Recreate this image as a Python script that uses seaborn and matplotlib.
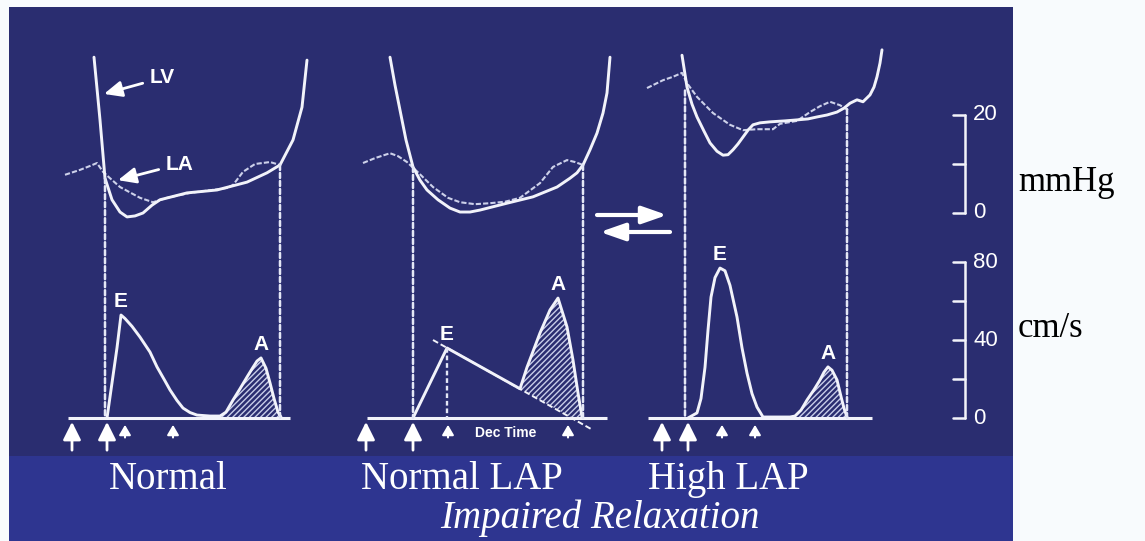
import numpy as np
import matplotlib
matplotlib.use("Agg")
import matplotlib.pyplot as plt
from matplotlib.patches import Rectangle, ConnectionPatch
import seaborn as sns

# %%
# values; time is in screen units (no time scale on the slide)
# LV / LA pressure, mmHg
lv_normal_t = [94, 100, 105, 112, 120, 127, 135, 143, 152, 160, 187, 217, 247, 267, 280, 293, 302, 307]
lv_normal_p = [31.8, 19.0, 7.1, 2.7, 0.2, -0.8, -0.6, 0.0, 1.6, 2.7, 4.1, 4.7, 6.3, 8.2, 9.8, 14.9, 21.6, 31.2]
la_normal_t = [65, 80, 90, 97, 103, 110, 120, 140, 153, 167, 190, 227, 233, 243, 255, 270, 280]
la_normal_p = [7.8, 8.8, 9.6, 10.2, 8.4, 7.1, 5.3, 3.1, 2.2, 3.1, 4.1, 5.1, 5.7, 8.4, 10.0, 10.4, 9.8]

lv_lap_t = [390, 395, 400, 406, 413, 420, 427, 438, 450, 460, 470, 480, 507, 533, 557, 570, 577, 583, 590, 597, 603, 607, 610]
lv_lap_p = [31.8, 26.1, 21.0, 14.9, 9.4, 6.7, 4.7, 2.7, 1.0, 0.2, 0.2, 0.6, 2.0, 3.3, 5.3, 7.1, 8.2, 9.8, 12.9, 16.3, 20.4, 24.5, 31.8]
la_lap_t = [363, 375, 390, 398, 407, 420, 433, 448, 460, 475, 490, 505, 520, 530, 540, 553, 567, 575, 583]
la_lap_p = [10.2, 11.2, 12.2, 11.6, 10.4, 7.9, 5.3, 3.1, 2.2, 1.8, 2.0, 2.3, 3.1, 4.6, 6.1, 9.4, 10.8, 10.4, 9.8]

lv_high_t = [682, 687, 692, 697, 704, 710, 717, 723, 728, 733, 738, 743, 748, 753, 760, 770, 785, 797,
             808, 817, 827, 837, 844, 850, 857, 863, 870, 874, 877, 880, 882]
lv_high_p = [32.2, 25.7, 22.2, 19.6, 16.7, 14.3, 12.6, 11.8, 11.9, 12.9, 14.1, 15.5, 16.9, 18.0, 18.4, 18.6, 18.8, 19.0,
             19.2, 19.6, 20.0, 20.6, 21.4, 22.4, 23.1, 22.7, 24.1, 25.7, 27.8, 30.6, 33.3]
la_high_t = [647, 663, 673, 682, 687, 697, 713, 730, 743, 757, 773, 780, 797, 810, 820, 830, 840, 848]
la_high_p = [25.5, 27.1, 27.8, 28.6, 26.5, 23.7, 20.4, 18.0, 16.9, 17.1, 17.1, 18.2, 18.8, 20.6, 21.8, 22.7, 22.0, 21.0]

# mitral inflow velocity, cm/s
mitral_normal_t = [107, 112, 117, 121, 125, 132, 140, 150, 157, 165, 170, 177, 183, 190, 197, 210, 220,
                   226, 233, 240, 247, 253, 257, 261, 266, 270, 274, 278, 281]
mitral_normal_v = [0, 18, 36, 52.8, 51, 47, 41.5, 33.8, 26.2, 19, 14.4, 9, 5.1, 2.8, 1.5, 1, 1,
                   3, 9.2, 15, 21, 26, 29.2, 30.8, 25.5, 18, 10, 3, 0.5]
mitral_lap_t = [413, 447, 520, 527, 540, 550, 558, 567, 573, 578, 582]
mitral_lap_v = [0, 35.9, 15, 26, 43.6, 55.4, 61.5, 46.7, 29.7, 12.8, 0.5]
mitral_high_t = [688, 697, 701, 705, 708, 711, 715, 720, 725, 730, 737, 742, 747, 752, 757, 763, 775, 790,
                 795, 801, 807, 814, 820, 824, 828, 832, 837, 841, 844, 847]
mitral_high_v = [0, 2.6, 10, 26, 45, 62, 72, 76.9, 75.5, 68, 51.8, 36, 23, 12.5, 5.6, 0.5, 0.5, 0.5,
                 1, 4, 9.2, 14.5, 19.5, 23.5, 26.2, 24.5, 19.5, 11, 5, 0.5]

# deceleration slope of E (Normal LAP) and where it meets the baseline
dec_t = [433, 593]
dec_v = [40, -6.2]
dec_zero_t = 572

a_start_t = [220, 520, 790]           # start of atrial wave shading
e_peak_t = [121, 447, 720]
a_peak_t = [261, 558, 828]
baseline_t = [(68, 290), (367, 607), (648, 872)]
onset_lines = [(105, 7.1), (280, 9.8), (413, 9.4), (583, 9.8), (685, 25.0), (847, 21.2)]
big_arrow_t = [72, 107, 366, 413, 662, 688]
small_arrow_t = [125, 173, 448, 568, 722, 755]

panel_names = ["Normal", "Normal LAP", "High LAP"]
panel_name_x = [168, 462, 728]
pressure_ticks = [0, 10, 20]
velocity_ticks = [0, 20, 40, 60, 80]
pressure_labels = {20: "20", 0: "0"}
velocity_labels = {80: "80", 40: "40", 0: "0"}

# %%
sns.set_theme(style="white")
plt.rcParams["font.family"] = ["Liberation Sans", "DejaVu Sans"]
plt.rcParams["hatch.linewidth"] = 1.0

W, H = 1145, 541
fig = plt.figure(figsize=(W / 100, H / 100), dpi=100, facecolor="#f8fbfd")

ax = fig.add_axes([0, 0, 1, 1])
ax.set_xlim(0, W)
ax.set_ylim(H, 0)
ax.axis("off")
ax.add_patch(Rectangle((9, 7), 1004, 449, color="#2a2d70", lw=0))
ax.add_patch(Rectangle((9, 456), 1004, H - 456, color="#2e3590", lw=0))

# pressure and velocity scales, each mapped onto the slide
ax_p = fig.add_axes([0, 0, 1, 1], facecolor="none")
ax_v = fig.add_axes([0, 0, 1, 1], facecolor="none")
p_zero, px_per_mmhg = 213, 4.9
v_zero, px_per_cms = 418, 1.95

line_col = "#f2f3fa"
la_col = "#cdd1ea"
dash_col = "#e4e7f6"

pressure = [(lv_normal_t, lv_normal_p, la_normal_t, la_normal_p),
            (lv_lap_t, lv_lap_p, la_lap_t, la_lap_p),
            (lv_high_t, lv_high_p, la_high_t, la_high_p)]
for lv_t, lv_p, la_t, la_p in pressure:
    sns.lineplot(x=la_t, y=la_p, ax=ax_p, color=la_col, linewidth=1.5,
                 linestyle=(0, (2.5, 1)), estimator=None, sort=False)
    sns.lineplot(x=lv_t, y=lv_p, ax=ax_p, color=line_col, linewidth=2.1,
                 estimator=None, sort=False)

mitral = [(mitral_normal_t, mitral_normal_v), (mitral_lap_t, mitral_lap_v), (mitral_high_t, mitral_high_v)]
for i, (t, v) in enumerate(mitral):
    t = np.array(t); v = np.array(v)
    lo, hi = baseline_t[i]
    ax_v.plot([lo, hi], [0, 0], color=line_col, lw=2.2, solid_capstyle="butt")
    sel = t >= a_start_t[i]
    if i == 1:
        # area between atrial wave and the extrapolated deceleration
        ax_v.fill(np.r_[t[sel], dec_zero_t], np.r_[v[sel], 0], facecolor="none",
                  edgecolor="#c8cde8", hatch="//////", lw=0)
    else:
        ax_v.fill_between(t[sel], 0, v[sel], facecolor="none", edgecolor="#c8cde8",
                          hatch="//////", lw=0)
    sns.lineplot(x=t, y=v, ax=ax_v, color=line_col, linewidth=2.1, estimator=None, sort=False)
    ax_v.annotate("E", xy=(e_peak_t[i], v[list(t).index(e_peak_t[i])]), xytext=(0, 3),
                  textcoords="offset points", ha="center", va="bottom", color="white",
                  fontsize=15, fontweight="bold")
    ax_v.annotate("A", xy=(a_peak_t[i], v[list(t).index(a_peak_t[i])]), xytext=(0, 3),
                  textcoords="offset points", ha="center", va="bottom", color="white",
                  fontsize=15, fontweight="bold")

ax_v.plot(dec_t, dec_v, color=line_col, lw=1.4, ls=(0, (3, 1.5)))
ax_v.plot([e_peak_t[1], e_peak_t[1]], [mitral_lap_v[1], 0], color=dash_col, lw=1.7, ls=(0, (2, 1.2)))

for t, p in onset_lines:
    con = ConnectionPatch(xyA=(t, p), coordsA=ax_p.transData, xyB=(t, 0), coordsB=ax_v.transData,
                          color=dash_col, lw=1.8, ls=(0, (2, 1.2)))
    fig.add_artist(con)

# timing arrows under the Doppler baseline
for t in big_arrow_t:
    ax_v.annotate("", xy=(t, -2), xytext=(t, -16.5),
                  arrowprops=dict(arrowstyle="-|>,head_length=0.9,head_width=0.45", color="white",
                                  lw=2, mutation_scale=12, shrinkA=0, shrinkB=0))
for t in small_arrow_t:
    ax_v.annotate("", xy=(t, -3.5), xytext=(t, -10),
                  arrowprops=dict(arrowstyle="-|>,head_length=0.6,head_width=0.35", color="white",
                                  lw=1.5, mutation_scale=10, shrinkA=0, shrinkB=0))

ax.text(506, 433, "Dec Time", color="white", fontsize=10, fontweight="bold", ha="center", va="center")

# LV / LA callouts
arr = dict(arrowstyle="-|>,head_length=0.9,head_width=0.4", color="white", lw=2,
           mutation_scale=12, shrinkA=3, shrinkB=0)
ax_p.annotate("LV", xy=(104, 24.3), xytext=(150, 27.6), ha="left", va="center", color="white",
              fontsize=15, fontweight="bold", arrowprops=arr)
ax_p.annotate("LA", xy=(118, 6.7), xytext=(166, 10.0), ha="left", va="center", color="white",
              fontsize=15, fontweight="bold", arrowprops=arr)

# scale bars
ax_p.plot([965, 965], [pressure_ticks[0], pressure_ticks[-1]], color=line_col, lw=1.8)
for k in pressure_ticks:
    ax_p.plot([953, 965], [k, k], color=line_col, lw=1.8)
    if k in pressure_labels:
        ax_p.text(973, k, pressure_labels[k], color="white", fontsize=16, va="center", ha="left")
ax_v.plot([965, 965], [velocity_ticks[0], velocity_ticks[-1]], color=line_col, lw=1.8)
for k in velocity_ticks:
    ax_v.plot([953, 965], [k, k], color=line_col, lw=1.8)
    if k in velocity_labels:
        ax_v.text(973, k, velocity_labels[k], color="white", fontsize=16, va="center", ha="left")

ax.text(1018, 191, "mmHg", color="black", fontsize=25, family="Liberation Serif", va="baseline")
ax.text(1018, 337, "cm/s", color="black", fontsize=25, family="Liberation Serif", va="baseline")

# double arrow between the two relaxation panels
ax.annotate("", xy=(667, 215), xytext=(597, 215),
            arrowprops=dict(arrowstyle="-|>,head_length=1.0,head_width=0.35", color="white",
                            lw=3, mutation_scale=15, shrinkA=0, shrinkB=0))
ax.annotate("", xy=(600, 232), xytext=(670, 232),
            arrowprops=dict(arrowstyle="-|>,head_length=1.0,head_width=0.35", color="white",
                            lw=3, mutation_scale=15, shrinkA=0, shrinkB=0))

for name, x in zip(panel_names, panel_name_x):
    ax.text(x, 489, name, color="white", fontsize=28, family="Liberation Serif", ha="center", va="baseline")
ax.text(600, 528, "Impaired Relaxation", color="white", fontsize=28, family="Liberation Serif",
        style="italic", ha="center", va="baseline")

for a in (ax_p, ax_v):
    a.set_xlim(0, W)
    a.axis("off")
ax_p.set_ylim((p_zero - H) / px_per_mmhg, p_zero / px_per_mmhg)
ax_v.set_ylim((v_zero - H) / px_per_cms, v_zero / px_per_cms)

fig.savefig("out.png", dpi=100, facecolor=fig.get_facecolor())
